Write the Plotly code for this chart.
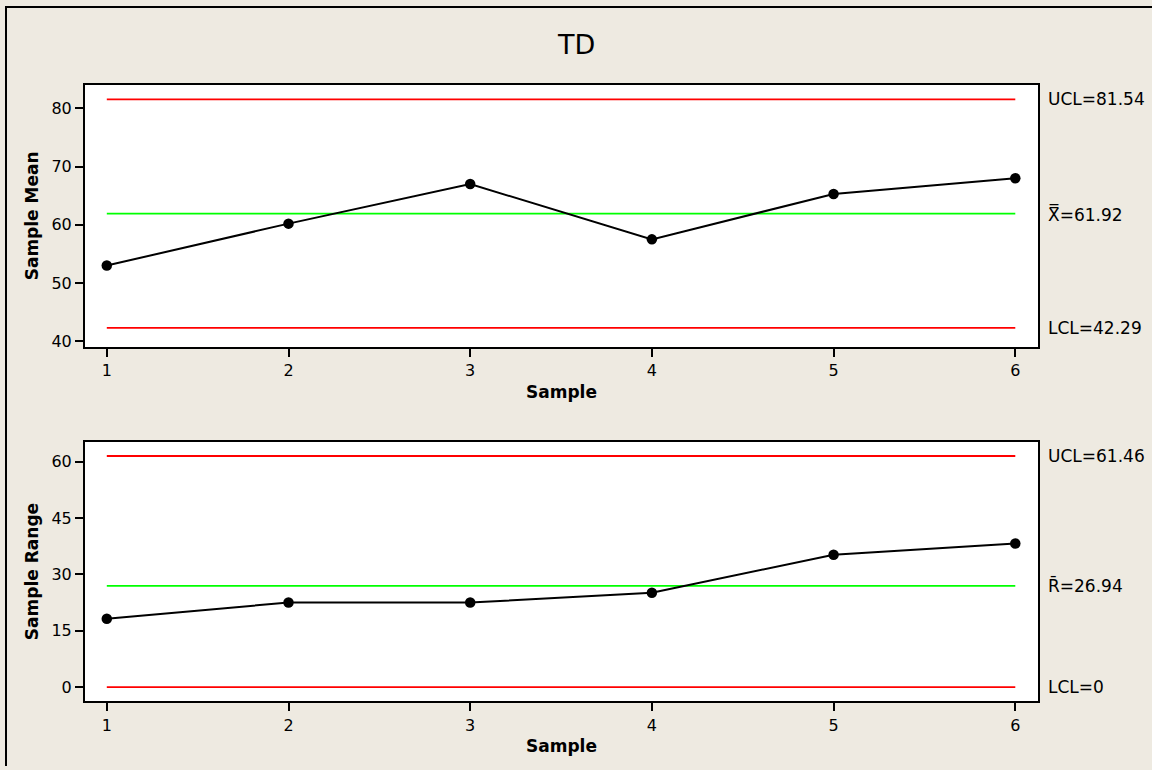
import plotly.graph_objects as go

samples = [1, 2, 3, 4, 5, 6]
sample_means = [53.0, 60.2, 67.0, 57.5, 65.3, 68.0]
sample_ranges = [18.2, 22.5, 22.5, 25.1, 35.2, 38.2]

xbar_ucl, xbar_center, xbar_lcl = 81.54, 61.92, 42.29
r_ucl, r_center, r_lcl = 61.46, 26.94, 0.0

xbar_labels = ["UCL=81.54", "X\u033f=61.92", "LCL=42.29"]
r_labels = ["UCL=61.46", "R\u0304=26.94", "LCL=0"]

mean_ticks = [40, 50, 60, 70, 80]
range_ticks = [0, 15, 30, 45, 60]

FONT = "DejaVu Sans"
W, H = 1152, 770
RED = "#FF0000"
GREEN = "#00FF00"

fig = go.Figure()


def add_chart(fig, xa, ya, values, ucl, cl, lcl):
    for val, col in [(ucl, RED), (cl, GREEN), (lcl, RED)]:
        fig.add_trace(go.Scatter(x=[samples[0], samples[-1]], y=[val, val], mode="lines",
                                 line=dict(color=col, width=1.8), xaxis=xa, yaxis=ya,
                                 showlegend=False, hoverinfo="skip"))
    fig.add_trace(go.Scatter(x=samples, y=values, mode="lines+markers",
                             line=dict(color="black", width=2),
                             marker=dict(color="black", size=10.5),
                             xaxis=xa, yaxis=ya, showlegend=False))


add_chart(fig, "x", "y", sample_means, xbar_ucl, xbar_center, xbar_lcl)
add_chart(fig, "x2", "y2", sample_ranges, r_ucl, r_center, r_lcl)

xdom = [85 / W, 1038 / W]
common_x = dict(range=[0.88, 6.125], tickmode="array", tickvals=samples,
                ticktext=[str(s) for s in samples], ticks="outside", ticklen=8, tickwidth=2,
                tickcolor="black", showline=True, linecolor="black", linewidth=2, mirror=True,
                showgrid=False, zeroline=False, domain=xdom,
                tickfont=dict(family=FONT, size=16, color="black"),
                title=dict(text="<b>Sample</b>", font=dict(family=FONT, size=17, color="black"),
                           standoff=7))
common_y = dict(ticks="outside", ticklen=8, tickwidth=2, tickcolor="black", showline=True,
                linecolor="black", linewidth=2, mirror=True, showgrid=False, zeroline=False,
                tickfont=dict(family=FONT, size=16, color="black"))

fig.update_layout(
    width=W, height=H,
    margin=dict(l=0, r=0, t=0, b=0),
    paper_bgcolor="#EEEAE1",
    plot_bgcolor="white",
    xaxis=dict(common_x, anchor="y"),
    xaxis2=dict(common_x, anchor="y2"),
    yaxis=dict(common_y, range=[38.97, 84.1], tickvals=mean_ticks,
               domain=[(H - 349) / H, (H - 85) / H], anchor="x",
               title=dict(text="<b>Sample Mean</b>", font=dict(family=FONT, size=17, color="black"),
                          standoff=8)),
    yaxis2=dict(common_y, range=[-3.77, 65.27], tickvals=range_ticks,
                domain=[(H - 705) / H, (H - 444) / H], anchor="x2",
                title=dict(text="<b>Sample Range</b>", font=dict(family=FONT, size=17, color="black"),
                           standoff=8)),
)

fig.add_annotation(text="TD", x=0.5, y=1 - 45 / H, xref="paper", yref="paper",
                   xanchor="center", yanchor="middle", showarrow=False,
                   font=dict(family=FONT, size=27, color="black"))

for lab, val in zip(xbar_labels, [xbar_ucl, xbar_center, xbar_lcl]):
    fig.add_annotation(text=lab, x=1046 / W, y=val, xref="paper", yref="y",
                       xanchor="left", yanchor="middle", showarrow=False,
                       font=dict(family=FONT, size=17, color="black"))
for lab, val in zip(r_labels, [r_ucl, r_center, r_lcl]):
    fig.add_annotation(text=lab, x=1046 / W, y=val, xref="paper", yref="y2",
                       xanchor="left", yanchor="middle", showarrow=False,
                       font=dict(family=FONT, size=17, color="black"))

# outer frame (top and left edges visible in the reference)
fig.add_shape(type="line", xref="paper", yref="paper", x0=5 / W, x1=1.0, y0=1 - 7 / H, y1=1 - 7 / H,
              line=dict(color="black", width=2))
fig.add_shape(type="line", xref="paper", yref="paper", x0=6 / W, x1=6 / W, y0=0, y1=1 - 7 / H,
              line=dict(color="black", width=2))

fig.write_html("out.html")
